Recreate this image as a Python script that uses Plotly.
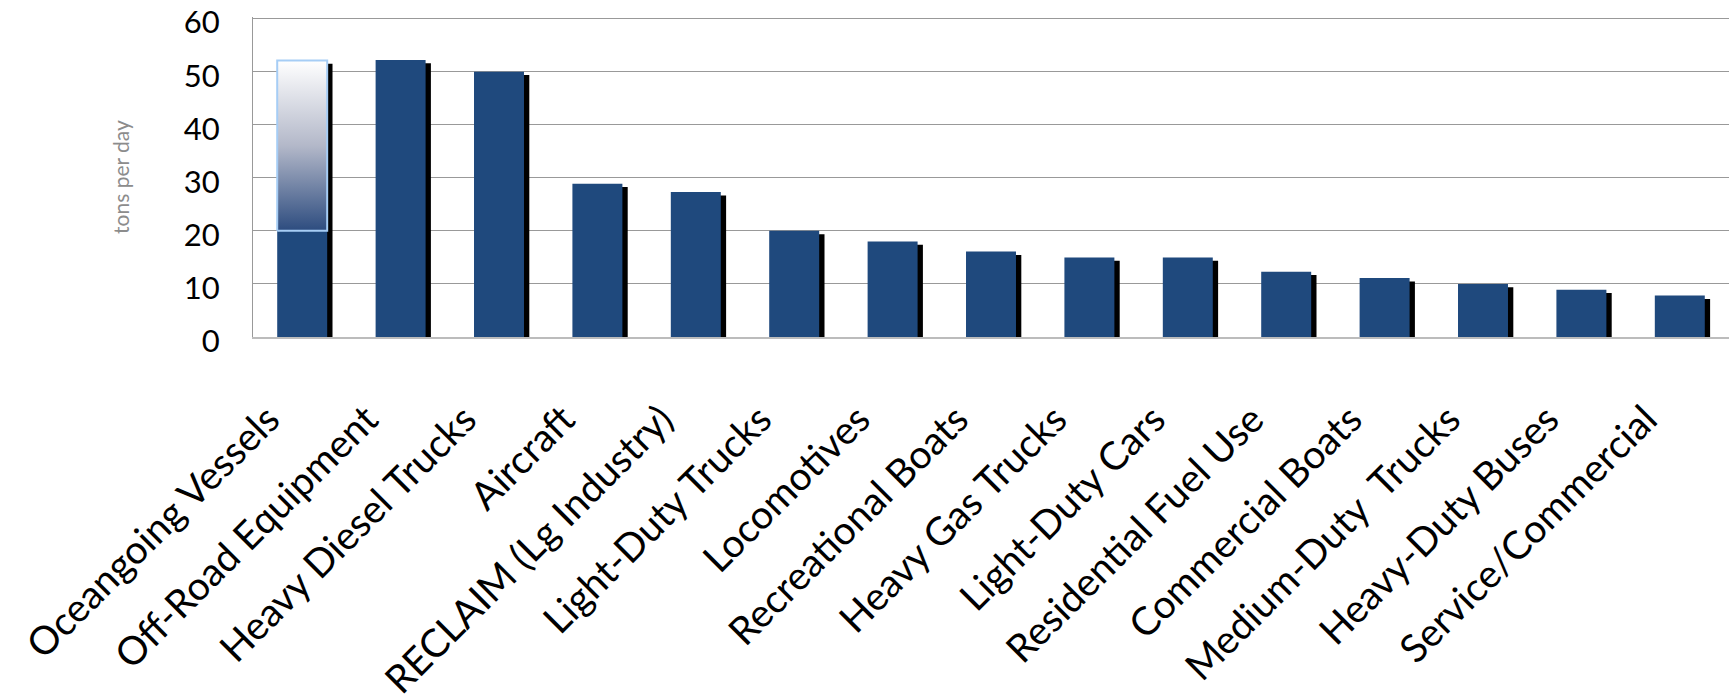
import plotly.graph_objects as go
import numpy as np

categories = [
    "Oceangoing Vessels", "Off-Road Equipment", "Heavy Diesel Trucks", "Aircraft",
    "RECLAIM (Lg Industry)", "Light-Duty Trucks", "Locomotives", "Recreational Boats",
    "Heavy Gas Trucks", "Light-Duty Cars", "Residential Fuel Use", "Commercial Boats",
    "Medium-Duty  Trucks", "Heavy-Duty Buses", "Service/Commercial",
]
values = [52.1, 52.2, 50.0, 28.9, 27.3, 20.0, 18.0, 16.1, 15.0, 15.0, 12.3, 11.1, 10.0, 8.9, 7.8]
y_ticks = [0, 10, 20, 30, 40, 50, 60]

highlight_index = 0
highlight_low = 20

BAR_W = 0.508
SHADOW_DX = 0.054
SHADOW_DROP = 0.63
BAR_COLOR = "#1F497D"
FONT = "Lato"

xpos = np.arange(len(categories))
vals = np.array(values)

fig = go.Figure()
fig.add_trace(go.Bar(
    x=xpos + SHADOW_DX, y=vals - SHADOW_DROP, width=BAR_W,
    marker=dict(color="black", line=dict(width=0)), hoverinfo="skip",
))
fig.add_trace(go.Bar(
    x=xpos, y=vals, width=BAR_W,
    marker=dict(color=BAR_COLOR, line=dict(width=0)),
))

hx = xpos[highlight_index]
hv = vals[highlight_index]
fig.add_trace(go.Scatter(
    x=[hx - BAR_W / 2, hx + BAR_W / 2, hx + BAR_W / 2, hx - BAR_W / 2, hx - BAR_W / 2],
    y=[highlight_low, highlight_low, hv, hv, highlight_low],
    mode="lines", fill="toself",
    fillgradient=dict(type="vertical",
                      colorscale=[[0, "#2d4c7f"], [0.5, "#b3b8c9"], [1, "#ffffff"]]),
    line=dict(color="#a6cdf5", width=2),
    hoverinfo="skip",
))

fig.update_layout(
    width=1734, height=699,
    margin=dict(l=253, r=5, t=16.7, b=362.3),
    paper_bgcolor="white", plot_bgcolor="white",
    barmode="overlay", showlegend=False,
    font=dict(family=FONT, color="black"),
)
fig.update_xaxes(
    range=[-0.5, len(categories) - 0.5],
    tickmode="array", tickvals=xpos, ticktext=categories,
    tickangle=-45, tickfont=dict(size=39, family=FONT, color="black"),
    showgrid=False, zeroline=False,
    showline=True, linecolor="#bcbcbc", linewidth=2,
    ticks="", ticklabelstandoff=42, ticklabelshift=-34,
    automargin=False, ticklabeloverflow="allow",
)
fig.update_yaxes(
    range=[0, 60.3], tickmode="array", tickvals=y_ticks,
    tickfont=dict(size=31, family=FONT, color="black"),
    showgrid=True, gridcolor="#999999", gridwidth=1,
    zeroline=False, showline=True, linecolor="#999999", linewidth=1,
    ticks="", ticklabelstandoff=26, ticklabelshift=4,
    automargin=False, ticklabeloverflow="allow",
    title=dict(text="tons per day", font=dict(size=21, family=FONT, color="#8c8c8c"), standoff=48),
)

fig.write_html("out.html")
